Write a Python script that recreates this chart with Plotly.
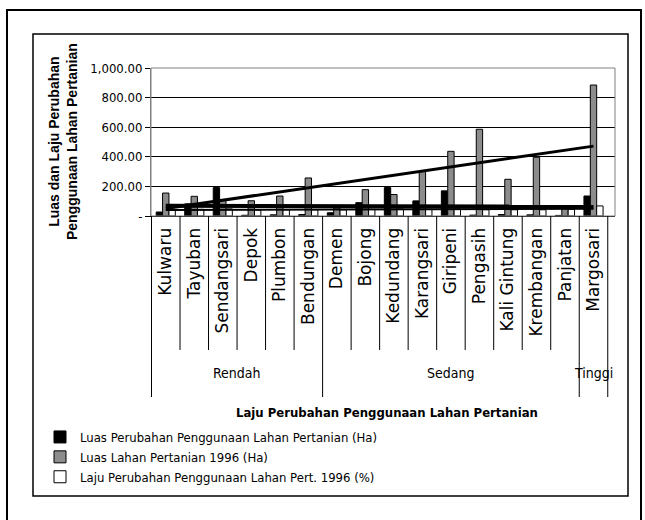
import numpy as np
import plotly.graph_objects as go

# data
kecamatan = ["Kulwaru", "Tayuban", "Sendangsari", "Depok", "Plumbon", "Bendungan",
             "Demen", "Bojong", "Kedundang", "Karangsari", "Giripeni", "Pengasih",
             "Kali Gintung", "Krembangan", "Panjatan", "Margosari"]
kelompok = ["Rendah", "Rendah", "Rendah", "Rendah", "Rendah", "Rendah",
            "Sedang", "Sedang", "Sedang", "Sedang", "Sedang", "Sedang",
            "Sedang", "Sedang", "Sedang", "Tinggi"]
luas_perubahan = [27, 82, 192, 5, 8, 10, 22, 90, 192, 102, 170, 6, 10, 8, 4, 135]
luas_lahan_1996 = [155, 133, 110, 103, 135, 257, 55, 178, 145, 304, 437, 586, 248, 397, 52, 885]
laju_perubahan = [40, 45, 48, 40, 42, 42, 42, 45, 48, 45, 48, 42, 42, 42, 45, 68]

y_tickvals = [0, 200, 400, 600, 800, 1000]
y_ticktext = ["-", "200.00", "400.00", "600.00", "800.00", "1,000.00"]

W, H = 645, 520
L, R, T, B = 151, 30, 68, 304

def px_x(px):
    return (px - L) / (W - L - R)

def px_y(py):
    return (H - B - py) / (H - T - B)

NARROW = "DejaVu Sans Condensed, Liberation Sans Narrow, sans-serif"
SANS = "Liberation Sans, Arial, sans-serif"
WIDE = "DejaVu Sans, Verdana, sans-serif"

series = [
    ("Luas Perubahan Penggunaan Lahan Pertanian (Ha)", luas_perubahan, "#000000", 4),
    ("Luas Lahan Pertanian 1996 (Ha)", luas_lahan_1996, "#8c8c8c", 3),
    ("Laju Perubahan Penggunaan Lahan Pert. 1996 (%)", laju_perubahan, "#ffffff", 2),
]

fig = go.Figure()
for name, vals, color, _ in series:
    fig.add_trace(go.Bar(
        x=kecamatan, y=vals, name=name,
        marker=dict(color=color, line=dict(color="black", width=1)),
    ))

# linear trend lines (as in the spreadsheet)
idx = np.arange(len(kecamatan))
for name, vals, color, lw in series:
    k, b = np.polyfit(idx, vals, 1)
    fig.add_trace(go.Scatter(
        x=kecamatan, y=k * idx + b, mode="lines",
        line=dict(color="black", width=lw), showlegend=False, hoverinfo="skip",
    ))

shapes = []
# plot area border
shapes.append(dict(type="rect", xref="paper", yref="paper", x0=0, x1=1, y0=0, y1=1,
                   line=dict(color="#808080", width=1)))
# category boxes under the axis
group_edges = [0] + [i for i in range(1, len(kelompok)) if kelompok[i] != kelompok[i - 1]] + [len(kelompok)]
for i in range(len(kecamatan) + 1):
    bottom = 397 if i in group_edges else 350
    shapes.append(dict(type="line", xref="x", yref="paper", x0=i - 0.5, x1=i - 0.5,
                       y0=px_y(216), y1=px_y(bottom), line=dict(color="black", width=1)))
# frames
shapes.append(dict(type="rect", xref="paper", yref="paper",
                   x0=px_x(33), x1=px_x(628), y0=px_y(496), y1=px_y(34),
                   line=dict(color="black", width=1.5)))
shapes.append(dict(type="rect", xref="paper", yref="paper",
                   x0=px_x(7), x1=px_x(641), y0=px_y(530), y1=px_y(10),
                   line=dict(color="black", width=2)))

annotations = []
for g0, g1 in zip(group_edges[:-1], group_edges[1:]):
    annotations.append(dict(x=(g0 + g1 - 1) / 2, y=px_y(383), xref="x", yref="paper",
                            text=kelompok[g0], showarrow=False,
                            font=dict(family=NARROW, size=14, color="black")))
annotations.append(dict(x=px_x(387), y=px_y(412), xref="paper", yref="paper",
                        xanchor="center", yanchor="middle",
                        text="<b>Laju Perubahan Penggunaan Lahan Pertanian</b>",
                        showarrow=False, font=dict(family=NARROW, size=13, color="black")))
annotations.append(dict(x=px_x(63), y=px_y(142), xref="paper", yref="paper",
                        xanchor="center", yanchor="middle",
                        text="<b>Luas dan Laju Perubahan<br>Penggunaan Lahan Pertanian</b>",
                        textangle=-90, showarrow=False,
                        font=dict(family=SANS, size=14, color="black")))

fig.update_layout(
    width=W, height=H,
    margin=dict(l=L, r=R, t=T, b=B, autoexpand=False),
    paper_bgcolor="white", plot_bgcolor="white",
    barmode="group", bargap=0.33, bargroupgap=0,
    shapes=shapes, annotations=annotations,
    legend=dict(x=px_x(40), y=px_y(422), xanchor="left", yanchor="top",
                font=dict(family=NARROW, size=13, color="black"),
                tracegroupgap=0, itemwidth=30, bgcolor="rgba(0,0,0,0)"),
    font=dict(family=SANS, color="black"),
)
fig.update_yaxes(range=[0, 1000], tickvals=y_tickvals, ticktext=y_ticktext,
                 showgrid=True, gridcolor="black", gridwidth=1,
                 showline=True, linecolor="#808080", ticks="outside", ticklen=5,
                 tickcolor="black", zeroline=False,
                 tickfont=dict(family=NARROW, size=13, color="black"))
fig.update_xaxes(tickangle=-90, showline=True, linecolor="black", ticks="",
                 ticklabelstandoff=4,
                 showgrid=False, tickfont=dict(family=WIDE, size=17, color="black"))

fig.write_html("out.html", config={"displayModeBar": False},
               post_script="document.body.style.margin='0px';")
